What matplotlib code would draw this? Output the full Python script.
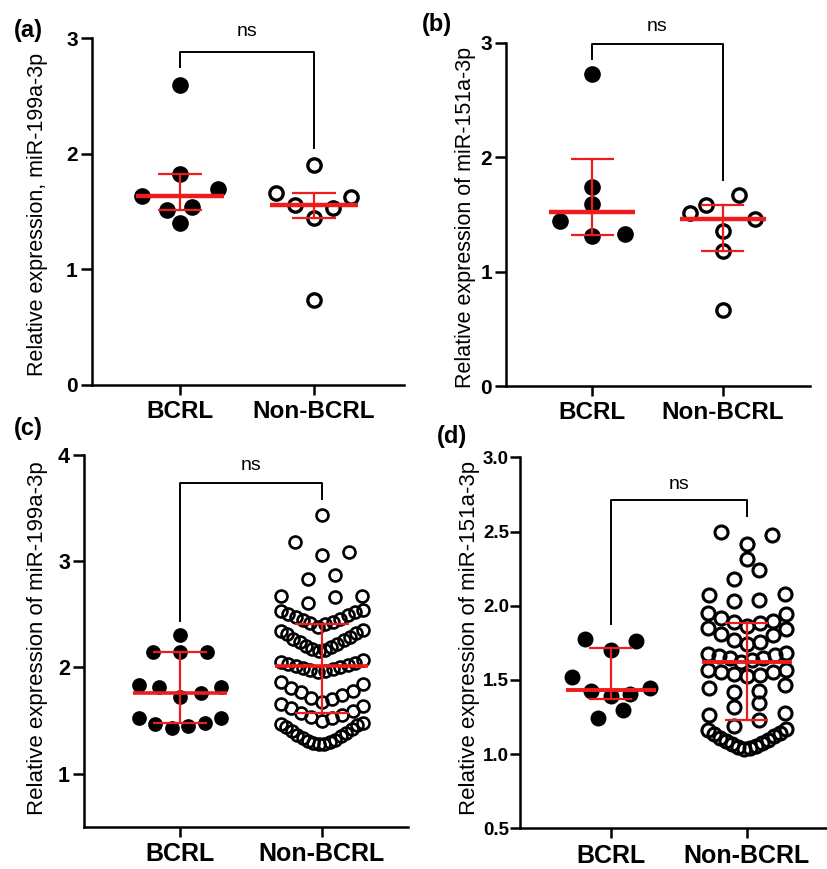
import numpy as np
import matplotlib
matplotlib.use('Agg')
import matplotlib.pyplot as plt

plt.rcParams['font.family'] = ['Liberation Sans', 'DejaVu Sans']

groups = ['BCRL', 'Non-BCRL']

# (a) miR-199a-3p, small cohort
a_bcrl = [2.60, 1.83, 1.635, 1.70, 1.54, 1.51, 1.405]
a_non = [1.904, 1.664, 1.624, 1.558, 1.529, 1.442, 0.735]

# (b) miR-151a-3p, small cohort
b_bcrl = [2.726, 1.742, 1.590, 1.445, 1.311, 1.328]
b_non = [1.669, 1.582, 1.509, 1.456, 1.357, 1.18, 0.664]

# (c) miR-199a-3p, large cohort
c_bcrl = [2.305, 2.148, 2.148, 2.148, 1.833, 1.811, 1.717, 1.76, 1.82,
          1.519, 1.465, 1.434, 1.45, 1.48, 1.519]
c_non = [3.437, 3.179, 3.091, 3.06, 2.871, 2.833, 2.676, 2.676, 2.66, 2.604,
         2.385, 2.41, 2.42, 2.43, 2.445, 2.46, 2.475, 2.49, 2.505, 2.52, 2.535, 2.545,
         2.15, 2.16, 2.175, 2.19, 2.205, 2.22, 2.24, 2.255, 2.27, 2.29, 2.31, 2.325, 2.34, 2.35,
         1.96, 1.965, 1.975, 1.985, 1.995, 2.005, 2.01, 2.02, 2.03, 2.045, 2.055, 2.065,
         1.67, 1.70, 1.715, 1.74, 1.765, 1.78, 1.81, 1.84, 1.86,
         1.50, 1.52, 1.535, 1.555, 1.57, 1.585, 1.62, 1.64, 1.655,
         1.275, 1.28, 1.29, 1.30, 1.31, 1.32, 1.335, 1.35, 1.365, 1.38, 1.40, 1.42,
         1.44, 1.46, 1.47, 1.48]

# (d) miR-151a-3p, large cohort
d_bcrl = [1.775, 1.760, 1.703, 1.519, 1.445, 1.423, 1.394, 1.407, 1.299, 1.243]
d_non = [2.494, 2.478, 2.418, 2.314, 2.238, 2.18, 2.081, 2.074, 2.040, 2.029,
         1.86, 1.885, 1.89, 1.90, 1.92, 1.945, 1.95,
         1.74, 1.755, 1.77, 1.80, 1.81, 1.845, 1.85,
         1.62, 1.635, 1.645, 1.65, 1.66, 1.665, 1.675, 1.68,
         1.525, 1.535, 1.54, 1.55, 1.555, 1.565, 1.57,
         1.416, 1.423, 1.445, 1.468, 1.317, 1.344,
         1.19, 1.23, 1.265, 1.277,
         1.035, 1.04, 1.05, 1.055, 1.065, 1.075, 1.085, 1.095, 1.11, 1.12,
         1.135, 1.145, 1.16, 1.17]

W, H = 827, 869
RED = '#ee1c1c'


def rect(l, r, t, b):
    return [l / W, 1 - b / H, (r - l) / W, (b - t) / H]


def dot_offsets(values, breaks, step, half):
    # GraphPad-like scatter: values binned into rows, spread from the centre out
    vals = np.asarray(values, dtype=float)
    rows = np.digitize(vals, breaks)
    x = np.zeros(len(vals))
    for r in np.unique(rows):
        idx = np.where(rows == r)[0]
        idx = idx[np.argsort(vals[idx], kind='stable')]
        n = len(idx)
        s = step if n < 2 else min(step, 2 * half / (n - 1))
        for k, i in enumerate(idx):
            if n % 2:
                x[i] = ((k + 1) // 2) * s * (1 if k % 2 else -1)
            else:
                x[i] = (k // 2 + 0.5) * s * (-1 if k % 2 == 0 else 1)
    return x


panels = [
    dict(tag='(a)', tag_xy=(28, 30), data=(a_bcrl, a_non),
         ylabel='Relative expression, miR-199a-3p', ylab_xy=(38, 214), ylab_size=15.5,
         box=(91.7, 404, 38.3, 385), xlim=(-0.659, 1.672), ylim=(0, 3),
         yticks=[0, 1, 2, 3], ytl=['0', '1', '2', '3'], ytsize=15, xtsize=17.5,
         ytick_len=8, ytick_pad=2,
         breaks=([1.45, 1.75, 2.0], [1.0, 1.8]), step=0.19, half=0.28,
         ms=12, ms_open=9.6, mew=2.4, med_lw=3.2, cap=0.165,
         bracket=(2.755, 2.885, 2.048), ns_y=3.056),
    dict(tag='(b)', tag_xy=(437, 24), data=(b_bcrl, b_non),
         ylabel='Relative expression of miR-151a-3p', ylab_xy=(465, 217), ylab_size=15.5,
         box=(506, 810, 42.7, 386), xlim=(-0.662, 1.669), ylim=(0, 3),
         yticks=[0, 1, 2, 3], ytl=['0', '1', '2', '3'], ytsize=15, xtsize=17.5,
         ytick_len=8, ytick_pad=2,
         breaks=([1.5, 1.65, 2.0], [1.0, 1.3, 1.55, 1.8]), step=0.25, half=0.28,
         ms=12, ms_open=9.6, mew=2.4, med_lw=3.2, cap=0.165,
         bracket=(2.855, 2.989, 1.80), ns_y=3.14),
    dict(tag='(c)', tag_xy=(28, 428), data=(c_bcrl, c_non),
         ylabel='Relative expression of miR-199a-3p', ylab_xy=(38, 638), ylab_size=16,
         box=(84, 408, 455, 826.7), xlim=(-0.677, 1.609), ylim=(0.5, 4),
         yticks=[1, 2, 3, 4], ytl=['1', '2', '3', '4'], ytsize=15.5, xtsize=18,
         ytick_len=8, ytick_pad=2,
         breaks=([1.6, 2.0, 2.25],
                 [1.49, 1.665, 1.9, 2.1, 2.37, 2.58, 2.75, 2.95, 3.3]),
         step=0.19, half=0.29,
         ms=10.6, ms_open=8.6, mew=1.9, med_lw=2.6, cap=0.19,
         bracket=(2.44, 3.736, 3.588), ns_y=3.90),
    dict(tag='(d)', tag_xy=(452, 437), data=(d_bcrl, d_non),
         ylabel='Relative expression of miR-151a-3p', ylab_xy=(470, 638), ylab_size=16,
         box=(520, 827, 457.3, 828.3), xlim=(-0.667, 1.590), ylim=(0.5, 3.0),
         yticks=[0.5, 1.0, 1.5, 2.0, 2.5, 3.0],
         ytl=['0.5', '1.0', '1.5', '2.0', '2.5', '3.0'], ytsize=13.5, xtsize=18,
         ytick_len=7, ytick_pad=1,
         breaks=([1.35, 1.6],
                 [1.18, 1.30, 1.38, 1.49, 1.60, 1.70, 1.855, 2.0, 2.12, 2.28, 2.38]),
         step=0.186, half=0.287,
         ms=11.5, ms_open=9.4, mew=2.2, med_lw=2.8, cap=0.157,
         bracket=(1.879, 2.710, 2.602), ns_y=2.815),
]

fig = plt.figure(figsize=(W / 100, H / 100), dpi=100)

for p in panels:
    ax = fig.add_axes(rect(*p['box']))
    ax.set_xlim(*p['xlim'])
    ax.set_ylim(*p['ylim'])

    for gi, vals in enumerate(p['data']):
        offs = dot_offsets(vals, p['breaks'][gi], p['step'], p['half'])
        if gi == 0:
            ax.plot(gi + offs, vals, 'o', ms=p['ms'], mfc='black', mec='black',
                    mew=0, ls='none', zorder=2, clip_on=False)
        else:
            ax.plot(gi + offs, vals, 'o', ms=p['ms_open'], mfc='none', mec='black',
                    mew=p['mew'], ls='none', zorder=2, clip_on=False)

        q1, med, q3 = np.percentile(vals, [25, 50, 75], method='weibull')
        ax.plot([gi - 0.33, gi + 0.33], [med, med], color=RED, lw=p['med_lw'],
                solid_capstyle='butt', zorder=4)
        ax.plot([gi, gi], [q1, q3], color=RED, lw=1.6, zorder=4)
        for q in (q1, q3):
            ax.plot([gi - p['cap'], gi + p['cap']], [q, q], color=RED, lw=1.6,
                    solid_capstyle='butt', zorder=4)

    lb, top, rb = p['bracket']
    ax.plot([0, 0, 1, 1], [lb, top, top, rb], color='black', lw=1.4,
            clip_on=False, zorder=3)
    ax.text(0.5, p['ns_y'], 'ns', ha='center', va='center', fontsize=14,
            clip_on=False)

    for side in ('top', 'right'):
        ax.spines[side].set_visible(False)
    for side in ('left', 'bottom'):
        ax.spines[side].set_linewidth(1.8)

    ax.set_xticks([0, 1])
    ax.set_xticklabels(groups, fontsize=p['xtsize'], fontweight='bold')
    ax.set_yticks(p['yticks'])
    ax.set_yticklabels(p['ytl'], fontsize=p['ytsize'], fontweight='bold')
    ax.tick_params(axis='y', length=p['ytick_len'], width=1.8, pad=p['ytick_pad'])
    ax.tick_params(axis='x', length=7, width=1.8, pad=4)

    fig.text(p['ylab_xy'][0] / W, 1 - p['ylab_xy'][1] / H, p['ylabel'],
             rotation=90, ha='center', va='center', fontsize=p['ylab_size'])
    fig.text(p['tag_xy'][0] / W, 1 - p['tag_xy'][1] / H, p['tag'],
             ha='center', va='center', fontsize=17, fontweight='bold')

fig.savefig('out.png', dpi=100)
